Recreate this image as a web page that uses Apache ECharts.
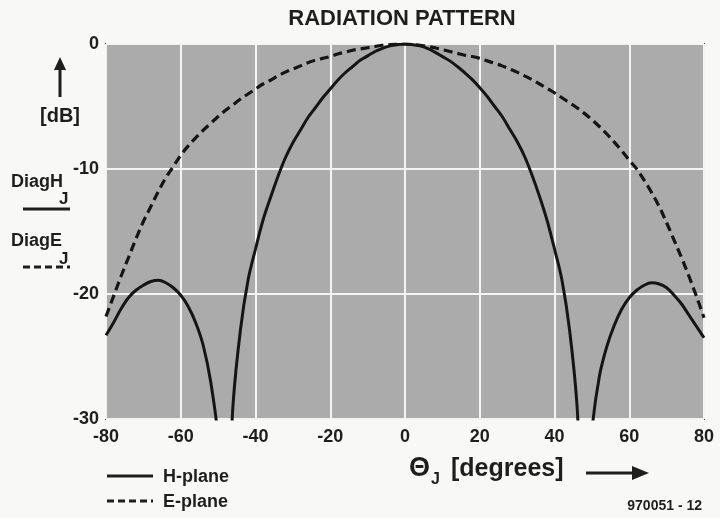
<!DOCTYPE html>
<html>
<head>
<meta charset="utf-8">
<title>Radiation pattern</title>
<script src="https://cdn.jsdelivr.net/npm/echarts@6/dist/echarts.min.js"></script>
<style>
  html, body { margin: 0; padding: 0; background: #f8f8f6; }
  #chart { width: 720px; height: 518px; }
</style>
</head>
<body>
<div id="chart"></div>
<script>
const angles = [-80, -78, -76, -74, -72, -70, -68, -66, -64, -62, -60, -58, -56, -54, -52, -50, -48, -46, -44, -42,
  -40, -38, -36, -34, -32, -30, -28, -26, -24, -22, -20, -18, -16, -14, -12, -10, -8, -6, -4, -2,
  0, 2, 4, 6, 8, 10, 12, 14, 16, 18, 20, 22, 24, 26, 28, 30, 32, 34, 36, 38,
  40, 42, 44, 46, 48, 50, 52, 54, 56, 58, 60, 62, 64, 66, 68, 70, 72, 74, 76, 78, 80];

// H-plane (solid), dB; the nulls dip below the -30 dB floor
const hPlane = [-23.3, -22.3, -21.2, -20.3, -19.7, -19.3, -19.0, -18.9, -19.1, -19.5, -20.1, -21.0, -22.3, -24.1, -27.0, -31.5, -40, -28.8, -22.8, -18.9,
  -16.4, -14.1, -12.3, -10.6, -9.1, -7.9, -6.9, -5.9, -5.1, -4.3, -3.6, -2.9, -2.3, -1.8, -1.3, -0.95, -0.6, -0.35, -0.15, -0.05,
  0, -0.05, -0.15, -0.35, -0.65, -1.0, -1.35, -1.8, -2.3, -2.85, -3.5, -4.2, -5.0, -5.8, -6.8, -7.8, -9.0, -10.5, -12.2, -14.1,
  -16.4, -18.9, -22.8, -28.8, -40, -31.0, -26.6, -24.2, -22.5, -21.2, -20.3, -19.7, -19.3, -19.1, -19.2, -19.5, -20.1, -20.8, -21.7, -22.6, -23.5];

// E-plane (dashed), dB
const ePlane = [-21.8, -20.2, -18.6, -17.1, -15.6, -14.2, -13.0, -11.8, -10.7, -9.8, -8.9, -8.15, -7.5, -6.9, -6.35, -5.8, -5.3, -4.85, -4.4, -4.0,
  -3.6, -3.2, -2.9, -2.55, -2.25, -2.0, -1.75, -1.5, -1.3, -1.15, -1.0, -0.8, -0.65, -0.5, -0.4, -0.3, -0.2, -0.1, -0.05, 0,
  0, -0.05, -0.1, -0.2, -0.3, -0.45, -0.6, -0.75, -0.9, -1.0, -1.15, -1.35, -1.55, -1.75, -2.0, -2.25, -2.55, -2.85, -3.2, -3.55,
  -3.9, -4.3, -4.7, -5.1, -5.55, -6.05, -6.6, -7.2, -7.85, -8.55, -9.3, -10.0, -10.9, -11.9, -13.0, -14.3, -15.7, -17.1, -18.6, -20.2, -21.9];

const xTicks = [-80, -60, -40, -20, 0, 20, 40, 60, 80];
const yTicks = [-30, -20, -10, 0];

const FONT = 'Liberation Sans, Arial, Helvetica, sans-serif';
const INK = '#1e1e1e';

const pairs = (xs, ys) => xs.map((x, i) => [x, ys[i]]);

const chart = echarts.init(document.getElementById('chart'), null, { renderer: 'canvas' });

const txt = (x, y, text, size, extra) => ({
  type: 'text', x: x, y: y, silent: true,
  style: Object.assign({ text: text, fill: INK, font: 'bold ' + size + 'px ' + FONT,
    textAlign: 'left', textVerticalAlign: 'middle' }, extra || {})
});
const seg = (x1, y1, x2, y2, dash) => ({
  type: 'line', silent: true,
  shape: { x1: x1, y1: y1, x2: x2, y2: y2 },
  style: { stroke: INK, lineWidth: 3, lineDash: dash || null }
});

chart.setOption({
  backgroundColor: '#f8f8f6',
  animation: false,
  grid: {
    left: 106, top: 44, width: 598, height: 375,
    show: true, backgroundColor: '#ababab', borderColor: '#4a4a4a', borderWidth: 2
  },
  xAxis: {
    type: 'value', min: xTicks[0], max: xTicks[xTicks.length - 1], interval: 20,
    axisLine: { show: false }, axisTick: { show: false },
    axisLabel: { color: INK, fontFamily: FONT, fontWeight: 'bold', fontSize: 18, margin: 9 },
    splitLine: { lineStyle: { color: '#f4f4f4', width: 2 } }
  },
  yAxis: {
    type: 'value', min: yTicks[0], max: yTicks[yTicks.length - 1], interval: 10,
    axisLine: { show: false }, axisTick: { show: false },
    axisLabel: { color: INK, fontFamily: FONT, fontWeight: 'bold', fontSize: 18, margin: 7 },
    splitLine: { lineStyle: { color: '#f4f4f4', width: 2 } }
  },
  series: [
    {
      name: 'H-plane', type: 'line', data: pairs(angles, hPlane),
      showSymbol: false, smooth: 0.35, clip: true,
      lineStyle: { color: '#151515', width: 3 }
    },
    {
      name: 'E-plane', type: 'line', data: pairs(angles, ePlane),
      showSymbol: false, smooth: 0.35, clip: true,
      lineStyle: { color: '#151515', width: 3.2, type: [9, 5] }
    }
  ],
  graphic: [
    txt(402, 19, 'RADIATION PATTERN', 22, { textAlign: 'center' }),
    // y axis unit with arrow
    seg(60, 97, 60, 68),
    { type: 'polygon', silent: true, shape: { points: [[54, 70], [66, 70], [60, 57]] }, style: { fill: INK } },
    txt(60, 116, '[dB]', 20, { textAlign: 'center' }),
    // side labels
    txt(11, 182, 'DiagH', 18),
    txt(59, 199, 'J', 17),
    seg(23, 209, 70, 209),
    txt(11, 241, 'DiagE', 18),
    txt(59, 259, 'J', 17),
    seg(23, 267, 70, 267, [7, 4]),
    // bottom legend
    seg(107, 476, 153, 476),
    txt(163, 477, 'H-plane', 18),
    seg(107, 501, 153, 501, [7, 4]),
    txt(163, 502, 'E-plane', 18),
    // x axis name
    txt(409, 469, 'Θ', 27),
    txt(431, 480, 'J', 16),
    txt(451, 469, '[degrees]', 25),
    seg(586, 473, 634, 473),
    { type: 'polygon', silent: true, shape: { points: [[632, 466], [632, 480], [649, 473]] }, style: { fill: INK } },
    txt(702, 506, '970051 - 12', 14, { textAlign: 'right' })
  ]
});
</script>
</body>
</html>
